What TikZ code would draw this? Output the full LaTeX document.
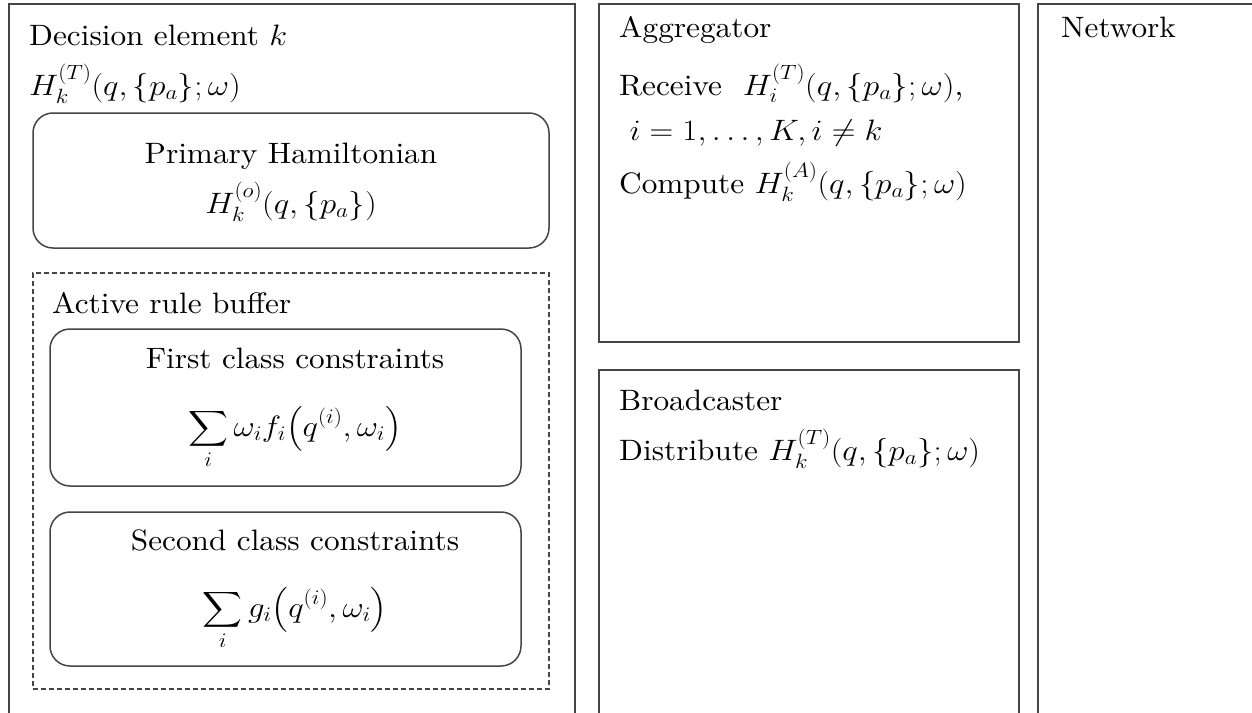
\RequirePackage{fix-cm}
\documentclass[tikz,border=0pt]{standalone}
\usepackage{amsmath}
\usepackage{fontspec}
\setmainfont{lmroman10-regular.otf}[ItalicFont=lmroman10-italic.otf,BoldFont=lmroman10-bold.otf]
\usepackage{graphicx}
\definecolor{linegray}{HTML}{454545}
\newcommand{\widen}[1]{\scalebox{1.06}[1]{#1}}
\newcommand{\mth}[1]{\scalebox{1.05}[1]{$#1$}}
\begin{document}
\begin{tikzpicture}[x=1pt,y=-1pt,
  frame/.style={draw=linegray, line width=1.7pt, rectangle, inner sep=0pt},
  roundbox/.style={frame, line width=1.5pt, rounded corners=20pt},
  dashbox/.style={draw=linegray, line width=1.3pt, rectangle, inner sep=0pt, dash pattern=on 5pt off 3pt},
  lbl/.style={anchor=base west, inner sep=0pt, font=\fontsize{29.5}{34}\selectfont},
  clbl/.style={anchor=base, inner sep=0pt, font=\fontsize{29.5}{34}\selectfont}
]
\useasboundingbox (0,0) rectangle (1252,712);
\clip (0,0) rectangle (1252,712);
\fill[white] (0,0) rectangle (1252,712);

% outer panels
\node[frame, minimum width=566pt, minimum height=756pt] (dec) at (292,382) {};
\node[frame, minimum width=420pt, minimum height=338pt] (agg) at (809,173) {};
\node[frame, minimum width=420pt, minimum height=390pt] (bro) at (809,565) {};
\node[frame, minimum width=282pt, minimum height=756pt] (net) at (1179,382) {};

% inner boxes
\node[roundbox, minimum width=516pt, minimum height=135pt] (prim) at (291,180.5) {};
\node[dashbox, minimum width=516pt, minimum height=416pt] (buf) at (291,481) {};
\node[roundbox, minimum width=471pt, minimum height=157pt] (first) at (285.5,407.5) {};
\node[roundbox, minimum width=471pt, minimum height=154pt] (second) at (285.5,589) {};

% left panel texts
\node[lbl] (t1) at (29,45) {\widen{Decision element \mth{k}}};
\node[lbl] (t2) at (29,95) {\widen{\mth{H_k^{(T)}(q,\{p_a\};\omega)}}};
\node[clbl] (t3) at (291,163) {\widen{Primary Hamiltonian}};
\node[clbl] (t4) at (291,213) {\widen{\mth{H_k^{(o)}(q,\{p_a\})}}};
\node[lbl] (t5) at (52,313) {\widen{Active rule buffer}};
\node[clbl] (t6) at (295,368) {\widen{First class constraints}};
\node[clbl] (t7) at (295,436) {\widen{\mth{\displaystyle\sum_i \omega_i f_i\bigl(q^{(i)},\omega_i\bigr)}}};
\node[clbl] (t8) at (295,550) {\widen{Second class constraints}};
\node[clbl] (t9) at (295,617) {\widen{\mth{\displaystyle\sum_i g_i\bigl(q^{(i)},\omega_i\bigr)}}};

% aggregator
\node[lbl] (a1) at (619,37) {\widen{Aggregator}};
\node[lbl] (a2) at (619,95) {\widen{Receive\ \ \mth{H_i^{(T)}(q,\{p_a\};\omega)},}};
\node[lbl] (a3) at (619,140) {\widen{\ \mth{i=1,\dots,K,i\neq k}}};
\node[lbl] (a4) at (619,193) {\widen{Compute \mth{H_k^{(A)}(q,\{p_a\};\omega)}}};

% broadcaster
\node[lbl] (b1) at (619,410) {\widen{Broadcaster}};
\node[lbl] (b2) at (619,460) {\widen{Distribute \mth{H_k^{(T)}(q,\{p_a\};\omega)}}};

% network
\node[lbl] (n1) at (1061,37) {\widen{Network}};
\end{tikzpicture}
\end{document}
